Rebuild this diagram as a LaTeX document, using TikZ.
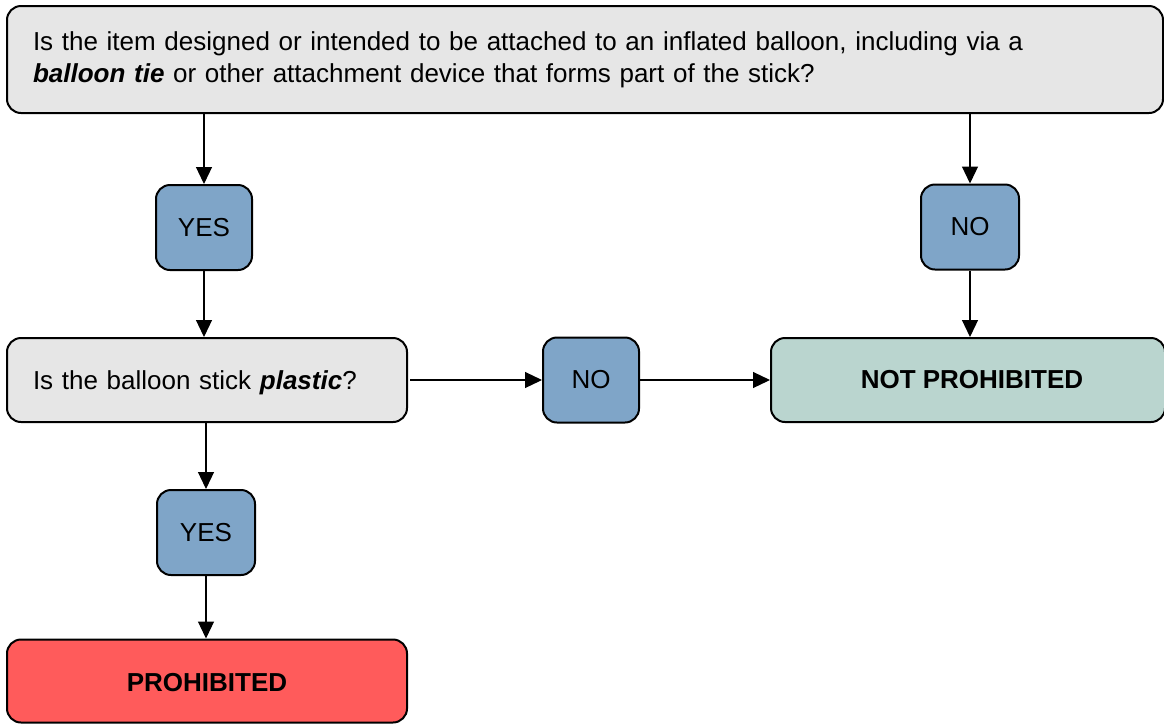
\documentclass[tikz,border=0pt]{standalone}
\usepackage{fontspec}
\setmainfont{Liberation Sans}
\usetikzlibrary{arrows.meta}
\definecolor{qgray}{HTML}{E6E6E6}
\definecolor{ansblue}{HTML}{7FA5C8}
\definecolor{okgreen}{HTML}{BAD5CF}
\definecolor{badred}{HTML}{FF5B5B}
\begin{document}
\begin{tikzpicture}[x=1pt,y=-1pt,
  box/.style={draw=black, line width=2pt, rounded corners=14pt, inner sep=0pt,
    font=\fontsize{26}{32}\selectfont},
  question/.style={box, fill=qgray, align=left},
  answer/.style={box, fill=ansblue, minimum width=96pt, minimum height=85pt},
  result/.style={box, minimum width=398pt, minimum height=83pt, font=\fontsize{26}{32}\selectfont\bfseries},
  arr/.style={draw=black, line width=1.2pt, -{Triangle[length=17pt,width=16pt]}}]
\useasboundingbox (0,0) rectangle (1164,724);

\node[question, minimum width=1156pt, minimum height=107pt, text width=1104pt] (q1) at (585,59.5)
  {Is the item designed or intended to be attached to an inflated balloon, including via a\\
   \textbf{\textit{balloon tie}} or other attachment device that forms part of the stick?};

\node[answer] (yes1) at (204,227.5) {YES};
\node[answer, minimum width=98pt] (no1) at (970,227) {NO};

\node[question, minimum width=400pt, minimum height=84pt, text width=348pt, text depth=0pt] (q2) at (207,380)
  {Is the balloon stick \textbf{\textit{plastic}}?};
\node[answer] (no2) at (591,380) {NO};
\node[result, fill=okgreen, minimum width=394pt, minimum height=84pt] (notp) at (968,380) {\hspace{8pt}NOT PROHIBITED};

\node[answer, minimum width=98pt] (yes2) at (206,532.5) {YES};
\node[result, fill=badred, minimum width=400pt, text depth=0pt] (proh) at (207,681) {\raisebox{-3pt}{PROHIBITED}};

\draw[arr] (q1.south -| yes1) -- (yes1.north);
\draw[arr] (q1.south -| no1) -- (no1.north);
\draw[arr] (yes1.south) -- (q2.north -| yes1);
\draw[arr] (no1.south) -- (notp.north -| no1);
\draw[arr] ([xshift=2pt]q2.east) -- (no2.west);
\draw[arr] (no2.east) -- (notp.west);
\draw[arr] (q2.south -| yes2) -- (yes2.north);
\draw[arr] (yes2.south) -- (proh.north -| yes2);
\end{tikzpicture}
\end{document}
